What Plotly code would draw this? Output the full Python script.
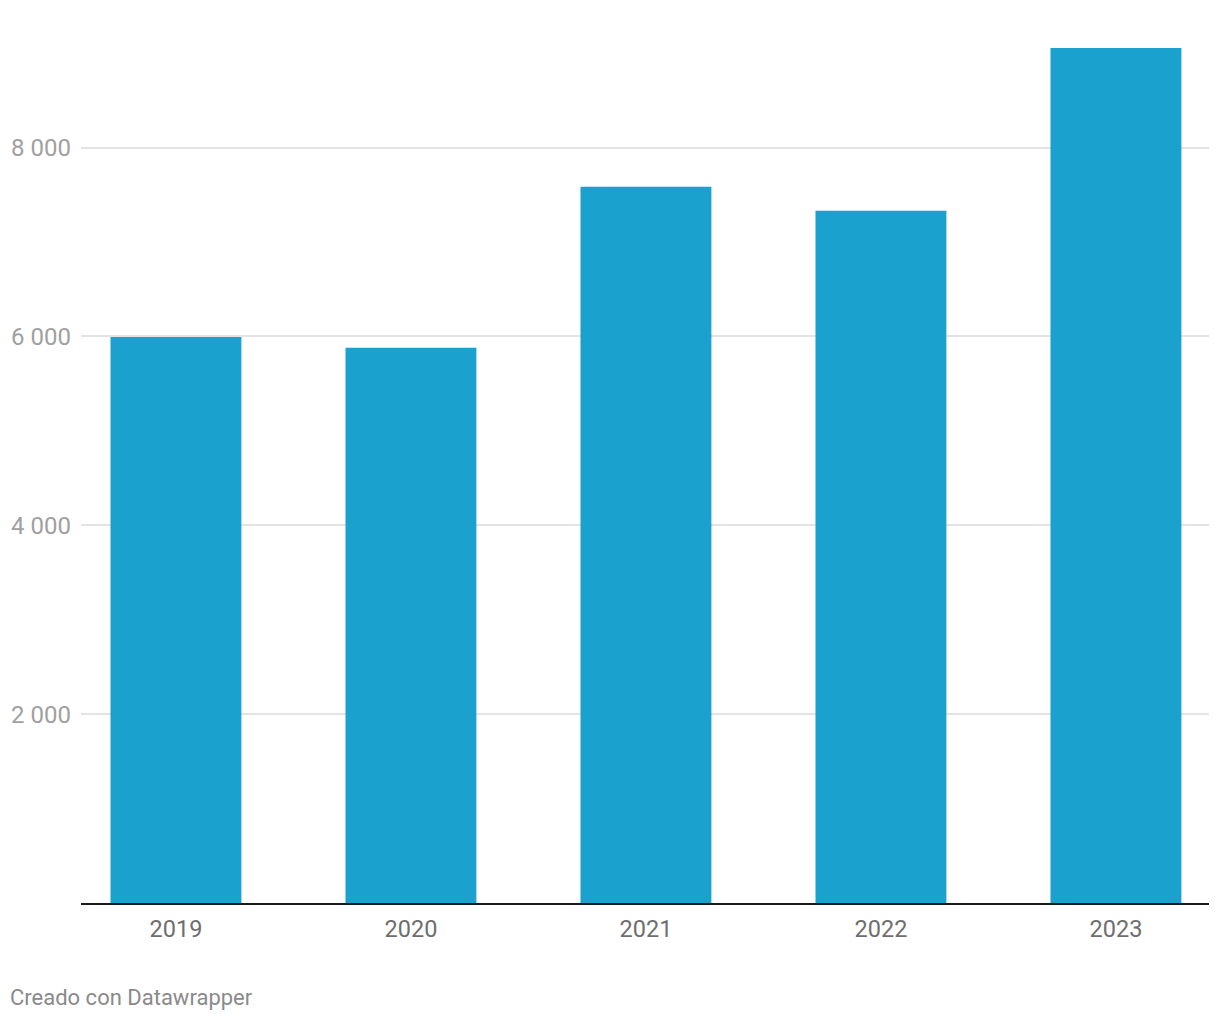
import plotly.graph_objects as go

years = ["2019", "2020", "2021", "2022", "2023"]
values = [5995, 5880, 7585, 7330, 9055]
y_tick_vals = [2000, 4000, 6000, 8000]
y_tick_text = ["2 000", "4 000", "6 000", "8 000"]
footer = "Creado con Datawrapper"

W, H = 1220, 1020
L, R, T, B = 81, 11, 0, 117
plot_w = W - L - R
plot_h = H - T - B

fig = go.Figure(
    go.Bar(
        x=list(range(len(years))),
        y=values,
        marker=dict(color="#1aa1cd", line=dict(width=0)),
        width=0.557,
        hoverinfo="x+y",
    )
)

fig.update_layout(
    width=W,
    height=H,
    margin=dict(l=L, r=R, t=T, b=B, pad=0),
    paper_bgcolor="white",
    plot_bgcolor="white",
    showlegend=False,
    font=dict(family="Roboto, sans-serif"),
    xaxis=dict(
        range=[-0.404, 4.396],
        tickvals=list(range(len(years))),
        ticktext=years,
        showgrid=False,
        zeroline=False,
        showline=True,
        linecolor="#1a1a1a",
        linewidth=1.5,
        ticks="",
        ticklabelstandoff=4,
        tickfont=dict(size=23.5, color="#6e6e6e", family="Roboto, sans-serif"),
        fixedrange=True,
    ),
    yaxis=dict(
        range=[0, 9563],
        tickvals=y_tick_vals,
        ticktext=y_tick_text,
        showgrid=True,
        gridcolor="#e3e3e3",
        gridwidth=1.5,
        zeroline=False,
        showline=False,
        ticks="",
        ticklabelstandoff=9,
        tickfont=dict(size=24, color="#a0a0a0", family="Roboto, sans-serif"),
        fixedrange=True,
    ),
    annotations=[
        dict(
            text=footer,
            xref="paper",
            yref="paper",
            x=(8 - L) / plot_w,
            y=(plot_h - (997 - T)) / plot_h,
            xanchor="left",
            yanchor="middle",
            showarrow=False,
            font=dict(size=22, color="#8a8a8a", family="Roboto, sans-serif"),
        )
    ],
)

fig.write_html("out.html")
